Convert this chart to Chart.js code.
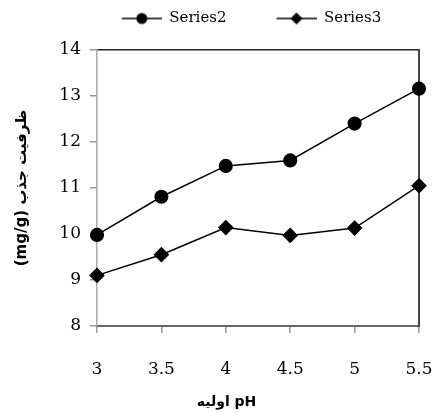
<!DOCTYPE html>
<html>
<head>
<meta charset="utf-8">
<script src="https://cdn.jsdelivr.net/npm/chart.js@4/dist/chart.umd.min.js"></script>
<style>
  html, body { margin: 0; padding: 0; background: #fff; }
  #c { display: block; }
</style>
</head>
<body>
<canvas id="c" width="435" height="413"></canvas>
<script>
// pH boshlang'ich qiymatlari va ikki seriya
const phLabels = ["3", "3.5", "4", "4.5", "5", "5.5"];
const series2 = [9.98, 10.81, 11.48, 11.6, 12.4, 13.16];
const series3 = [9.1, 9.55, 10.14, 9.97, 10.13, 11.05];
const seriesNames = ["Series2", "Series3"];

const yTitle = "(mg/g) ظرفیت جذب";
const xTitle = "اولیه pH";

const SERIF = "'DejaVu Serif', 'Liberation Serif', serif";
const BOX_W = 90;

// legend belgisi: chiziq + marker (o'ng 40px qismida)
function legendMark(kind) {
  const cv = document.createElement("canvas");
  cv.width = BOX_W; cv.height = 16;
  const g = cv.getContext("2d");
  const cx = BOX_W - 20, cy = 8;
  g.strokeStyle = "#000"; g.lineWidth = 1.5;
  g.beginPath(); g.moveTo(BOX_W - 40, cy); g.lineTo(BOX_W, cy); g.stroke();
  g.fillStyle = "#000";
  g.beginPath();
  if (kind === "circle") {
    g.arc(cx, cy, 5.5, 0, Math.PI * 2);
  } else {
    g.moveTo(cx, cy - 6); g.lineTo(cx + 6, cy); g.lineTo(cx, cy + 6); g.lineTo(cx - 6, cy); g.closePath();
  }
  g.fill();
  return cv;
}

const marks = [legendMark("circle"), legendMark("diamond")];

const pinWidth = (w) => (s) => { s.width = w; };
const pinHeight = (h) => (s) => { s.height = h; };

new Chart(document.getElementById("c"), {
  type: "line",
  data: {
    labels: phLabels,
    datasets: [
      {
        label: seriesNames[0],
        data: series2,
        borderColor: "#000",
        backgroundColor: "#000",
        borderWidth: 1.5,
        pointStyle: "circle",
        pointRadius: 6.3,
        tension: 0,
      },
      {
        label: seriesNames[1],
        data: series3,
        borderColor: "#000",
        backgroundColor: "#000",
        borderWidth: 1.5,
        pointStyle: "rectRot",
        pointRadius: 6.8,
        tension: 0,
      },
    ],
  },
  options: {
    responsive: false,
    animation: false,
    layout: { padding: { left: 18, right: 0, top: 11, bottom: 0 } },
    plugins: {
      tooltip: { enabled: false },
      legend: {
        position: "top",
        labels: {
          usePointStyle: true,
          pointStyleWidth: BOX_W,
          padding: 0,
          color: "#000",
          font: { family: SERIF, size: 15 },
          generateLabels: (chart) => chart.data.datasets.map((ds, i) => ({
            text: ds.label,
            pointStyle: marks[i],
            fillStyle: "#000",
            strokeStyle: "#000",
            lineWidth: 0,
            hidden: false,
            datasetIndex: i,
          })),
        },
      },
      title: {
        display: true,
        position: "bottom",
        text: xTitle,
        color: "#000",
        font: { family: "'DejaVu Sans', sans-serif", size: 14, weight: "bold" },
        padding: { top: 0, bottom: 2 },
      },
    },
    scales: {
      x: {
        type: "category",
        offset: false,
        afterFit: pinHeight(68.2),
        grid: { drawOnChartArea: false, tickLength: 7, color: "#999", lineWidth: 1.5 },
        border: { color: "#666", width: 2 },
        ticks: { color: "#000", padding: 2, maxRotation: 0, font: { family: SERIF, size: 17, lineHeight: 4.12 } },
      },
      x2: {
        type: "category",
        position: "top",
        offset: false,
        afterFit: pinHeight(14),
        grid: { drawOnChartArea: false, drawTicks: false },
        border: { color: "#222", width: 1.5 },
        ticks: { display: false },
      },
      y: {
        min: 8,
        max: 14,
        afterFit: pinWidth(79),
        grid: { drawOnChartArea: false, tickLength: 7, color: "#999", lineWidth: 1.5 },
        border: { color: "#aaa", width: 1.5 },
        ticks: { stepSize: 1, color: "#000", padding: 9, font: { family: SERIF, size: 17 } },
        title: {
          display: true,
          text: yTitle,
          color: "#000",
          font: { family: "'DejaVu Sans', sans-serif", size: 15, weight: "bold", lineHeight: 0.55 },
          padding: { top: 0, bottom: 0 },
        },
      },
      y2: {
        position: "right",
        afterFit: pinWidth(16),
        grid: { drawOnChartArea: false, drawTicks: false },
        border: { color: "#444", width: 2 },
        ticks: { display: false },
      },
    },
  },
});
</script>
</body>
</html>
